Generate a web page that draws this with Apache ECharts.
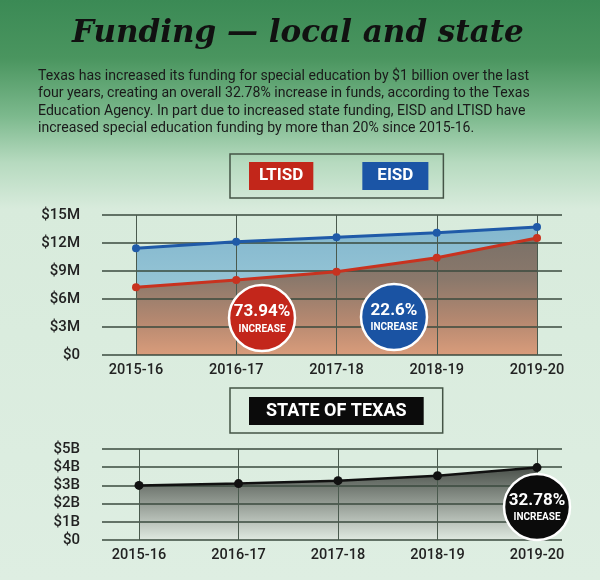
<!DOCTYPE html>
<html>
<head>
<meta charset="utf-8">
<script src="https://cdn.jsdelivr.net/npm/echarts@6/dist/echarts.min.js"></script>
<style>
  html, body { margin: 0; padding: 0; }
  #chart { width: 600px; height: 580px; }
</style>
</head>
<body>
<div id="chart"></div>
<script>
// ---- data ----
const categories = ['2015-16', '2016-17', '2017-18', '2018-19', '2019-20'];
const ltisd = [7.25, 8.04, 8.93, 10.43, 12.54];      // $ millions
const eisd = [11.43, 12.14, 12.61, 13.11, 13.71];    // $ millions
const texas = [3.0, 3.1, 3.26, 3.53, 3.98];          // $ billions
const topTicks = [0, 3, 6, 9, 12, 15];
const bottomTicks = [0, 1, 2, 3, 4, 5];
const increases = ['73.94%', '22.6%', '32.78%'];

const SANS = 'Roboto, "Noto Sans", sans-serif';

const chart = echarts.init(document.getElementById('chart'), null, { renderer: 'canvas' });

function grad(stops) {
  return new echarts.graphic.LinearGradient(0, 0, 0, 1,
    stops.map(s => ({ offset: s[0], color: s[1] })));
}

function badge(cx, cy, r, fill, pct, pctY, incY) {
  return [
    { type: 'circle', z: 20, shape: { cx: cx, cy: cy, r: r },
      style: { fill: fill, stroke: '#ffffff', lineWidth: 2.5 } },
    { type: 'text', z: 21, x: cx, y: pctY,
      style: { text: pct, fill: '#fff', font: 'bold 17px ' + SANS,
               align: 'center', verticalAlign: 'middle' } },
    { type: 'text', z: 21, x: cx, y: incY,
      style: { text: 'INCREASE', fill: '#fff', font: 'bold 10px ' + SANS,
               align: 'center', verticalAlign: 'middle' } }
  ];
}

const gridLine = { color: '#3a4a3e', width: 1.5 };
const vLine = { color: '#4a5a4e', width: 1 };
const axisLabelStyle = { color: '#222', fontSize: 14.5, fontFamily: SANS, fontWeight: 500 };
const moneyFmt = unit => v => (v === 0 ? '$0' : '$' + v + unit);

const option = {
  animation: false,
  backgroundColor: grad([[0, '#3b8a55'], [0.1, '#4a955f'], [0.2, '#7cb98d'],
                         [0.28, '#b6dabf'], [0.36, '#d8ebdc'], [1, '#deeee2']]),
  title: [
    { text: 'Funding \u2014 local and state', left: 67, top: 13,
      textStyle: { fontFamily: '"DejaVu Serif", serif', fontStyle: 'italic', fontWeight: 'bold',
                   fontSize: 31, color: '#111' } },
    { text: 'Texas has increased its funding for special education by $1 billion over the last\n' +
            'four years, creating an overall 32.78% increase in funds, according to the Texas\n' +
            'Education Agency. In part due to increased state funding, EISD and LTISD have\n' +
            'increased special education funding by more than 20% since 2015-16.',
      left: 33, top: 63,
      textStyle: { fontFamily: SANS, fontWeight: 'normal', fontSize: 14.1, lineHeight: 17.2, color: '#1a1a1a' } }
  ],
  legend: [
    { left: 230, top: 154, orient: 'horizontal',
      icon: 'none', itemWidth: 0, itemHeight: 0, itemGap: 44, selectedMode: false,
      padding: [8, 15, 8, 14], borderColor: '#445446', borderWidth: 1.5,
      textStyle: { color: '#fff', fontSize: 17, fontWeight: 'bold', fontFamily: SANS,
                   lineHeight: 20, padding: [4, 10, 4, 10] },
      data: [
        { name: 'LTISD', textStyle: { backgroundColor: '#c2261a', padding: [4, 10, 4, 10] } },
        { name: 'EISD', textStyle: { backgroundColor: '#1b55a6', padding: [4, 15, 4, 15] } }
      ] },
    { left: 230, top: 388, icon: 'none', itemWidth: 0, itemHeight: 0, selectedMode: false,
      padding: [9, 19, 8, 14], borderColor: '#445446', borderWidth: 1.5,
      textStyle: { color: '#fff', fontSize: 18, fontWeight: 'bold', fontFamily: SANS,
                   lineHeight: 20, padding: [4, 17, 4, 17] },
      data: [ { name: 'STATE OF TEXAS', textStyle: { backgroundColor: '#0b0b0b' } } ] }
  ],
  grid: [
    { left: 102, right: 38, top: 215, height: 140 },
    { left: 136, right: 63, top: 215, height: 140 },
    { left: 102, right: 38, top: 449, height: 91 },
    { left: 139, right: 63, top: 449, height: 91 }
  ],
  xAxis: [
    { gridIndex: 0, type: 'value', show: false },
    { gridIndex: 1, type: 'category', data: categories, boundaryGap: false, z: 3,
      axisLine: { show: false }, axisTick: { show: false },
      axisLabel: Object.assign({ margin: 8 }, axisLabelStyle),
      splitLine: { show: true, lineStyle: vLine } },
    { gridIndex: 2, type: 'value', show: false },
    { gridIndex: 3, type: 'category', data: categories, boundaryGap: false, z: 3,
      axisLine: { show: false }, axisTick: { show: false },
      axisLabel: Object.assign({ margin: 8 }, axisLabelStyle),
      splitLine: { show: true, lineStyle: vLine } }
  ],
  yAxis: [
    { gridIndex: 0, type: 'value', min: topTicks[0], max: topTicks[topTicks.length - 1],
      interval: topTicks[1] - topTicks[0], z: 3,
      axisLine: { show: false }, axisTick: { show: false },
      axisLabel: Object.assign({}, axisLabelStyle, { margin: 22, fontSize: 15, formatter: moneyFmt('M') }),
      splitLine: { show: true, lineStyle: gridLine } },
    { gridIndex: 1, type: 'value', min: topTicks[0], max: topTicks[topTicks.length - 1], show: false },
    { gridIndex: 2, type: 'value', min: bottomTicks[0], max: bottomTicks[bottomTicks.length - 1],
      interval: bottomTicks[1] - bottomTicks[0], z: 3,
      axisLine: { show: false }, axisTick: { show: false },
      axisLabel: Object.assign({}, axisLabelStyle, { margin: 22, fontSize: 15, formatter: moneyFmt('B') }),
      splitLine: { show: true, lineStyle: gridLine } },
    { gridIndex: 3, type: 'value', min: bottomTicks[0], max: bottomTicks[bottomTicks.length - 1], show: false }
  ],
  series: [
    { name: 'EISD area', type: 'line', xAxisIndex: 1, yAxisIndex: 1, data: eisd, z: 1,
      symbol: 'none', lineStyle: { width: 0 },
      areaStyle: { opacity: 1, color: grad([[0, '#83b7ce'], [0.5, '#97c6d6'], [1, '#a8d2de']]) } },
    { name: 'LTISD area', type: 'line', xAxisIndex: 1, yAxisIndex: 1, data: ltisd, z: 1,
      symbol: 'none', lineStyle: { width: 0 },
      areaStyle: { opacity: 1, color: grad([[0, '#7b7168'], [0.35, '#8a786b'], [0.7, '#b48870'], [1, '#d99c7b']]) } },
    { name: 'EISD', type: 'line', xAxisIndex: 1, yAxisIndex: 1, data: eisd, z: 5,
      symbol: 'circle', symbolSize: 8, color: '#1f5aa8', lineStyle: { width: 3, color: '#1f5aa8' } },
    { name: 'LTISD', type: 'line', xAxisIndex: 1, yAxisIndex: 1, data: ltisd, z: 5,
      symbol: 'circle', symbolSize: 8, color: '#c8321f', lineStyle: { width: 3, color: '#c8321f' } },
    { name: 'Texas area', type: 'line', xAxisIndex: 3, yAxisIndex: 3, data: texas, z: 1,
      symbol: 'none', lineStyle: { width: 0 },
      areaStyle: { opacity: 1, color: grad([[0, '#4b514b'], [0.45, '#8d958d'], [1, '#e0e9e1']]) } },
    { name: 'STATE OF TEXAS', type: 'line', xAxisIndex: 3, yAxisIndex: 3, data: texas, z: 5,
      symbol: 'circle', symbolSize: 9, color: '#111', lineStyle: { width: 2.5, color: '#111' } }
  ],
  graphic: [].concat(
    badge(262, 318, 33, '#c3261b', increases[0], 312, 329),
    badge(394, 317, 33, '#1a53a3', increases[1], 311, 327),
    badge(537, 507, 33, '#0b0b0b', increases[2], 501, 517)
  )
};

chart.setOption(option);
</script>
</body>
</html>
